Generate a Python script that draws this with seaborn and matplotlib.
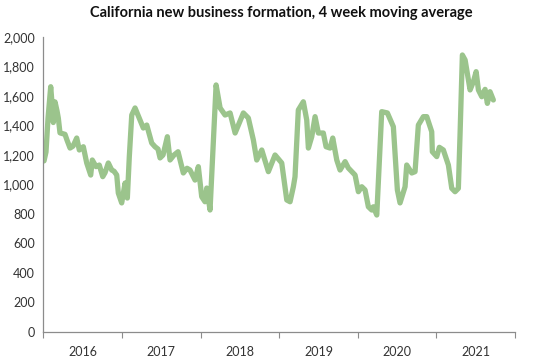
"""
California new business formation, 4 week moving average.
"""

import matplotlib.pyplot as plt
import matplotlib.ticker as mticker
import numpy as np
import pandas as pd
import seaborn as sns

# Values (x in years since Jan 2016)
years_since_2016 = [
    0.009, 0.034, 0.060, 0.094, 0.111, 0.127, 0.149, 0.174, 0.191, 0.212,
    0.276, 0.302, 0.340, 0.378, 0.425, 0.458, 0.509, 0.552, 0.603, 0.623,
    0.671, 0.712, 0.756, 0.785, 0.827, 0.870, 0.900, 0.934, 0.954, 0.997,
    1.040, 1.069, 1.094, 1.125, 1.167, 1.231, 1.272, 1.316, 1.379, 1.421,
    1.459, 1.485, 1.523, 1.578, 1.612, 1.663, 1.714, 1.781, 1.828, 1.866,
    1.930, 1.972, 2.015, 2.057, 2.079, 2.121, 2.198, 2.249, 2.312, 2.376,
    2.440, 2.545, 2.608, 2.672, 2.715, 2.779, 2.863, 2.948, 3.033, 3.097,
    3.139, 3.181, 3.202, 3.244, 3.308, 3.351, 3.372, 3.415, 3.457, 3.499,
    3.562, 3.597, 3.648, 3.682, 3.733, 3.775, 3.839, 3.880, 3.966, 4.008,
    4.051, 4.093, 4.135, 4.178, 4.198, 4.242, 4.305, 4.377, 4.453, 4.504,
    4.538, 4.602, 4.623, 4.687, 4.729, 4.771, 4.835, 4.878, 4.941, 4.949,
    5.005, 5.038, 5.089, 5.153, 5.196, 5.238, 5.280, 5.302, 5.331, 5.366,
    5.429, 5.471, 5.506, 5.535, 5.578, 5.620, 5.649, 5.683, 5.725,
]
formations = [
    1160, 1220, 1450, 1663, 1550, 1420, 1560, 1500, 1450, 1350,
    1340, 1300, 1247, 1260, 1315, 1234, 1256, 1146, 1064, 1166,
    1121, 1132, 1053, 1080, 1146, 1098, 1090, 1064, 942, 875,
    1010, 908, 1189, 1471, 1519, 1437, 1383, 1403, 1281, 1256,
    1240, 1180, 1200, 1324, 1166, 1200, 1222, 1078, 1110, 1098,
    1030, 1121, 917, 883, 976, 827, 1675, 1519, 1471, 1485,
    1349, 1485, 1451, 1302, 1166, 1234, 1087, 1200, 1146, 895,
    883, 985, 1053, 1505, 1561, 1437, 1247, 1324, 1460, 1349,
    1349, 1256, 1247, 1315, 1166, 1098, 1155, 1112, 1064, 951,
    985, 963, 849, 827, 849, 793, 1494, 1485, 1392, 963,
    875, 985, 1132, 1078, 1087, 1403, 1460, 1460, 1358, 1222,
    1189, 1252, 1234, 1132, 974, 951, 974, 1349, 1878, 1844,
    1641, 1697, 1765, 1641, 1595, 1645, 1550, 1629, 1573,
]
years = [2016, 2017, 2018, 2019, 2020, 2021]

sns.set_style("white")
plt.rcParams["font.family"] = ["Lato", "DejaVu Sans"]

df = pd.DataFrame({
    "year": 2016 + np.array(years_since_2016),
    "formations": formations,
})

fig = plt.figure(figsize=(5.49, 3.62), dpi=100)
ax = fig.add_axes([0.0789, 0.0829, 0.8591, 0.8149])

sns.lineplot(
    data=df, x="year", y="formations", ax=ax,
    color="#9BC48C", linewidth=3.8, estimator=None, sort=False,
    solid_capstyle="round", solid_joinstyle="round",
)

ax.set_xlim(2016, 2022)
ax.set_ylim(0, 2000)
ax.set_xlabel("")
ax.set_ylabel("")

# Year boundary ticks, labels centred in each year
ax.xaxis.set_major_locator(mticker.FixedLocator([y for y in years] + [2022]))
ax.xaxis.set_major_formatter(mticker.NullFormatter())
ax.xaxis.set_minor_locator(mticker.FixedLocator([y + 0.5 for y in years]))
ax.xaxis.set_minor_formatter(mticker.FixedFormatter([str(y) for y in years]))
ax.tick_params(axis="x", which="major", direction="out", length=4,
               width=0.8, color="#8c8c8c", bottom=True)
ax.tick_params(axis="x", which="minor", length=0, pad=10,
               labelsize=9, labelcolor="#333333")

ax.yaxis.set_major_locator(mticker.MultipleLocator(200))
ax.yaxis.set_major_formatter(mticker.StrMethodFormatter("{x:,.0f}"))
ax.tick_params(axis="y", length=0, pad=6, labelsize=9, labelcolor="#333333")

for side in ["top", "right"]:
    ax.spines[side].set_visible(False)
for side in ["left", "bottom"]:
    ax.spines[side].set_color("#8c8c8c")
    ax.spines[side].set_linewidth(0.9)

fig.text(0.512, 0.965, "California new business formation, 4 week moving average",
         ha="center", va="center", fontsize=10.5, fontweight="bold",
         color="#111111")

fig.savefig("out.png", dpi=100, facecolor="white")
plt.close(fig)
